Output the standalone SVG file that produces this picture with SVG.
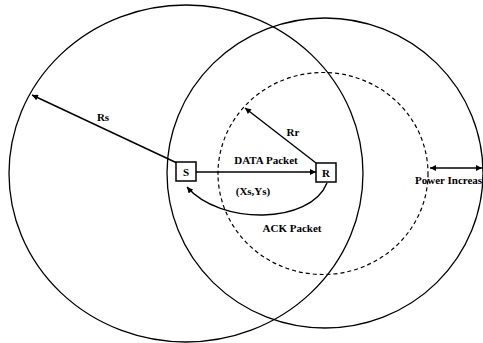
<svg xmlns="http://www.w3.org/2000/svg" width="483" height="343" viewBox="0 0 483 343">
  <style>
    .ring { fill: none; stroke: #000; stroke-width: 1.3; }
    .dash { fill: none; stroke: #000; stroke-width: 1.2; stroke-dasharray: 4 3; }
    .link { fill: none; stroke: #000; stroke-width: 1.4; }
    .box { fill: #fff; stroke: #000; stroke-width: 1.5; }
    text { font-family: "Liberation Serif", "Times New Roman", serif; font-weight: bold; font-size: 11px; fill: #000; }
    .mid { text-anchor: middle; }
  </style>
  <defs>
    <marker id="head" viewBox="0 0 10 10" refX="10" refY="5" markerWidth="7" markerHeight="6" orient="auto" markerUnits="userSpaceOnUse">
      <path d="M0,0 L10,5 L0,10 z" fill="#000"/>
    </marker>
    <marker id="tail" viewBox="0 0 10 10" refX="0" refY="5" markerWidth="7" markerHeight="6" orient="auto" markerUnits="userSpaceOnUse">
      <path d="M10,0 L0,5 L10,10 z" fill="#000"/>
    </marker>
  </defs>
  <rect width="483" height="343" fill="#fff"/>

  <!-- transmission ranges -->
  <g id="ranges">
    <ellipse id="sender-range" class="ring" cx="186" cy="173.5" rx="177" ry="168.5"/>
    <ellipse id="receiver-range" class="ring" cx="325" cy="173" rx="158" ry="155"/>
    <ellipse id="receiver-inner-range" class="dash" cx="323" cy="173.5" rx="105" ry="101"/>
  </g>

  <!-- connectors -->
  <g id="connectors">
    <line class="link" x1="177" y1="163" x2="32" y2="95" marker-end="url(#head)"/>
    <line class="link" x1="316" y1="163" x2="245" y2="108" marker-end="url(#head)"/>
    <line class="link" x1="195" y1="172" x2="316" y2="172" marker-end="url(#head)"/>
    <path class="link" d="M327,183 C310,225 220,225 187,187" marker-end="url(#head)"/>
    <line class="link" x1="430" y1="168" x2="482" y2="168" marker-start="url(#tail)" marker-end="url(#head)"/>
  </g>

  <!-- labels -->
  <g id="labels">
    <text class="mid" x="103" y="121">Rs</text>
    <text class="mid" x="293" y="136">Rr</text>
    <text class="mid" x="266" y="164">DATA Packet</text>
    <text class="mid" x="253" y="195">(Xs,Ys)</text>
    <text class="mid" x="292" y="232">ACK Packet</text>
    <text x="415" y="184">Power Increas</text>
  </g>

  <!-- nodes -->
  <g id="node-S">
    <rect class="box" x="176" y="162" width="20" height="19"/>
    <text class="mid" x="186" y="175.5">S</text>
  </g>
  <g id="node-R">
    <rect class="box" x="316" y="163" width="20" height="19"/>
    <text class="mid" x="326" y="176.5">R</text>
  </g>
</svg>
